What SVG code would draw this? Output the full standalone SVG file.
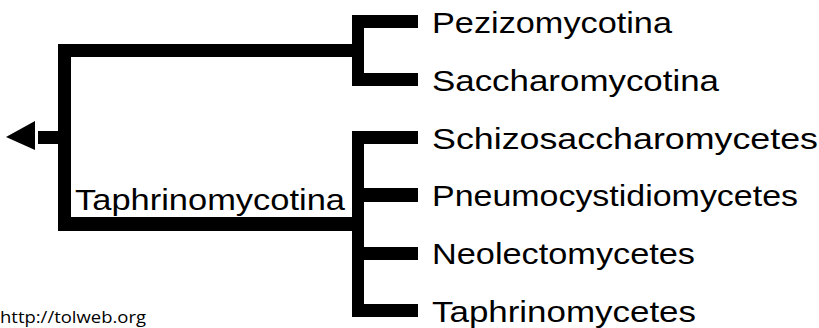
<svg xmlns="http://www.w3.org/2000/svg" width="819" height="328" viewBox="0 0 819 328">
<style>
.ln{fill:#000}
.lab{font-family:"Liberation Sans",Arial,sans-serif;font-size:29px;fill:#000}
.src{font-family:"Open Sans","Liberation Sans",sans-serif;font-size:16px;fill:#000}
</style>
<rect width="819" height="328" fill="#fff"/>
<g id="connectors">
<polygon class="ln" points="6,137 35,121 35,150"/>
<rect class="ln" x="38" y="131" width="21" height="13"/>
<rect class="ln" x="58" y="44" width="13" height="187"/>
<rect class="ln" x="58" y="44" width="306" height="13"/>
<rect class="ln" x="58" y="217" width="306" height="14"/>
<rect class="ln" x="352" y="15" width="12" height="71"/>
<rect class="ln" x="352" y="131" width="12" height="186"/>
<rect class="ln" x="352" y="15" width="66" height="13"/>
<rect class="ln" x="352" y="73" width="66" height="13"/>
<rect class="ln" x="352" y="131" width="66" height="13"/>
<rect class="ln" x="352" y="188" width="66" height="14"/>
<rect class="ln" x="352" y="247" width="66" height="13"/>
<rect class="ln" x="352" y="304" width="66" height="13"/>
</g>
<g id="n-taphrinomycotina"><text class="lab" x="75" y="210" textLength="270" lengthAdjust="spacingAndGlyphs">Taphrinomycotina</text></g>
<g id="n-pezizomycotina"><text class="lab" x="432" y="33" textLength="240" lengthAdjust="spacingAndGlyphs">Pezizomycotina</text></g>
<g id="n-saccharomycotina"><text class="lab" x="432" y="91" textLength="287" lengthAdjust="spacingAndGlyphs">Saccharomycotina</text></g>
<g id="n-schizosaccharomycetes"><text class="lab" x="432" y="149" textLength="386" lengthAdjust="spacingAndGlyphs">Schizosaccharomycetes</text></g>
<g id="n-pneumocystidiomycetes"><text class="lab" x="432" y="206" textLength="366" lengthAdjust="spacingAndGlyphs">Pneumocystidiomycetes</text></g>
<g id="n-neolectomycetes"><text class="lab" x="432" y="264" textLength="263" lengthAdjust="spacingAndGlyphs">Neolectomycetes</text></g>
<g id="n-taphrinomycetes"><text class="lab" x="432" y="322" textLength="264" lengthAdjust="spacingAndGlyphs">Taphrinomycetes</text></g>
<g id="source"><text class="src" x="0" y="323" textLength="146" lengthAdjust="spacingAndGlyphs">http://tolweb.org</text></g>
</svg>
